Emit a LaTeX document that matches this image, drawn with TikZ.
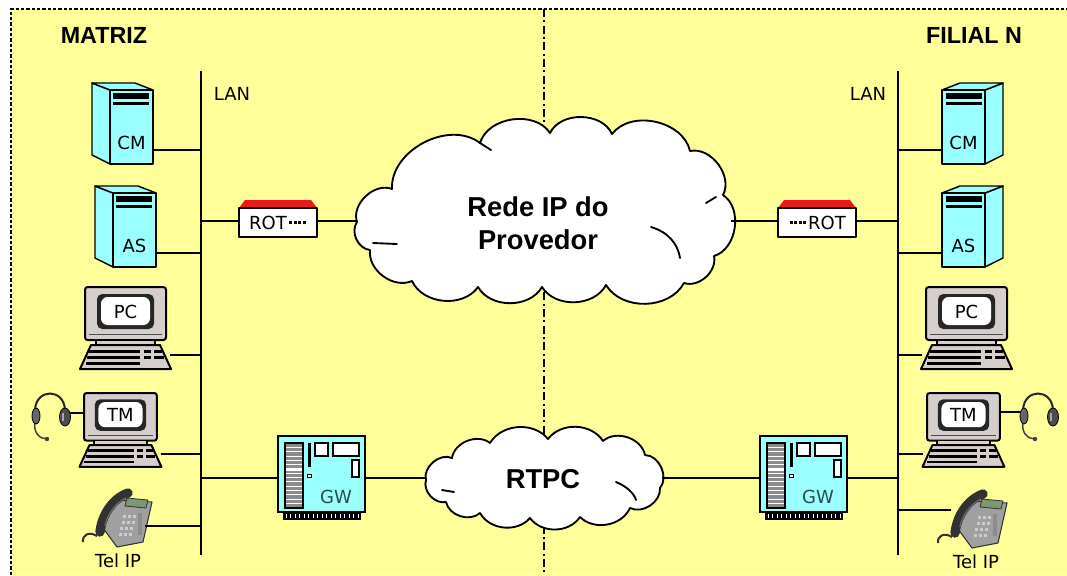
\documentclass[tikz,border=0pt]{standalone}
\usepackage{fontspec}
\setmainfont{Liberation Sans}
\newfontfamily\smallfont{DejaVu Sans}
\usetikzlibrary{calc}

\definecolor{paper}{RGB}{255,255,153}
\definecolor{boxcyan}{RGB}{153,255,255}
\definecolor{roofred}{RGB}{235,25,25}
\definecolor{crt}{RGB}{214,206,202}
\definecolor{gwink}{RGB}{45,75,75}
\definecolor{phgray}{RGB}{160,160,160}
\definecolor{phdark}{RGB}{50,50,50}
\definecolor{lcd}{RGB}{125,150,115}

\tikzset{
  wire/.style={line width=1.6pt},
  outline/.style={draw=black, line width=1.1pt, line join=round},
  devlabel/.style={font=\smallfont\fontsize{13.5}{15}\selectfont, inner sep=0pt},
  gwlabel/.style={devlabel, text=gwink},
  title/.style={font=\bfseries\fontsize{17.5}{20}\selectfont, inner sep=0pt},
  cloudtext/.style={font=\bfseries\fontsize{20.5}{24.75}\selectfont, align=center, inner sep=0pt},
  cloudline/.style={draw=black, line width=1.4pt, fill=white, line join=round},
  foldline/.style={draw=black, line width=1.4pt, line cap=round},
  % tower server; #2 = 1 (side face on the left) or -1 (side face on the right)
  pics/server/.style 2 args={code={
    \begin{scope}[xscale=#2]
      \filldraw[fill=boxcyan, outline] (0,0) -- (-18,-7) -- (-18,65) -- (0,74) -- cycle;
      \filldraw[fill=boxcyan, outline] (0,0) -- (-18,-7) -- (25,-7) -- (43,0) -- cycle;
      \filldraw[fill=boxcyan, outline] (0,0) rectangle (43,74);
      \fill (3,3) rectangle (39,9);
      \fill (3,12) rectangle (39,14.5);
      \node[devlabel] at (21.5,53) {#1};
      \coordinate (-port) at (43,60);
    \end{scope}
  }},
  % router; #1 = 1 (LAN on the left) or -1 (LAN on the right)
  pics/router/.style={code={
    \begin{scope}[xscale=#1]
      \fill[roofred] (-39,-14) -- (-33,-22) -- (33,-22) -- (39,-14) -- cycle;
      \filldraw[fill=white, outline] (-39,-14) rectangle (39,15);
      \node[devlabel] at (-10,0.5) {ROT};
      \foreach \d in {11,15.5,20,24.5} \fill (\d,-1) rectangle ++(3,3);
      \coordinate (-lan) at (-39,-1);
      \coordinate (-net) at (39,-1);
    \end{scope}
  }},
  % desktop computer with CRT monitor
  pics/computer/.style={code={
    \filldraw[fill=crt, draw=black, line width=1.5pt, rounded corners=2] (0,0) rectangle (81,53);
    \draw[line width=0.5pt, black!70] (4,47) -- (77,47);
    \fill[black!85, rounded corners=4] (12,7) rectangle (69,42);
    \fill[white, rounded corners=5] (16,10) rectangle (65,38);
    \node[devlabel] at (40.5,24.5) {#1};
    \filldraw[fill=crt, draw=black, line width=1pt] (11,53) rectangle (70,58);
    \filldraw[fill=crt, draw=black, line width=1.5pt, line join=round]
      (6,58) -- (75,58) -- (86,82) -- (-5,82) -- cycle;
    \fill (4,62.5) rectangle (55,65.5);
    \fill (59,62.5) rectangle (66,65.5);
    \fill (69,62.5) rectangle (77,65.5);
    \fill (2,69) rectangle (55,72);
    \fill (59,69) rectangle (66,72);
    \fill (69,69) rectangle (79,72);
    \fill (0.5,75) rectangle (55,77.5);
    \coordinate (-e) at (85,68);
    \coordinate (-w) at (-4,68);
    \coordinate (-mw) at (0,21);
    \coordinate (-me) at (81,21);
  }},
  % headset, origin at the small ear cup
  pics/headset/.style={code={
    \draw[line width=1.5pt, black!85] (-1,-5) .. controls (0,-27) and (28,-27) .. (29,-5);
    \draw[line width=1.1pt, black!75] (-1,7) .. controls (-3,18) and (4,24) .. (11,24);
    \fill[black!75] (11,24) circle (2.2);
    \filldraw[fill=black!60, draw=black, line width=0.6pt] (0,1) ellipse (4 and 8);
    \filldraw[fill=black!70, draw=black, line width=0.6pt] (29,2) ellipse (5.5 and 9);
    \fill[black!35] (26,-2) rectangle (28,6);
    \coordinate (-l) at (-4,-2);
    \coordinate (-r) at (34,-2);
  }},
  % IP desk phone
  pics/ipphone/.style={code={
    \filldraw[fill=phgray, draw=phdark, line width=0.8pt, line join=round]
      (33,13) -- (72,15) -- (63,55) -- (37,60) -- (23,41) -- cycle;
    \filldraw[fill=lcd, draw=phdark, line width=0.6pt] (47,11) -- (68,13) -- (66,21) -- (45,19) -- cycle;
    \foreach \r in {0,...,3} \foreach \c in {0,1,2}
      \fill[black!20] (43+5*\c-1.5*\r, 28+6*\r) rectangle ++(3,2.5);
    \fill[black!45] (58,26) rectangle (62,48);
    \draw[phdark, line width=7pt, line cap=round] (20,45) .. controls (22,28) and (32,12) .. (48,6);
    \draw[black!60, line width=1pt] (25,39) .. controls (27,28) and (35,16) .. (46,11);
    \draw[phdark, line width=1.5pt] (17,49) .. controls (9,44) and (2,48) .. (3,55);
    \coordinate (-e) at (65,39);
    \coordinate (-w) at (16,22);
  }},
  % voice gateway card
  pics/gateway/.style={code={
    \filldraw[fill=boxcyan, draw=black, line width=1.5pt] (0,0) rectangle (87,76);
    \filldraw[fill=black!45, draw=black, line width=0.8pt] (7,7) rectangle (25,72);
    \foreach \s in {1,...,14} \draw[white, line width=0.5pt] (8,7+4.3*\s) -- (24,7+4.3*\s);
    \draw[white, line width=1.6pt] (8,34) -- (24,34);
    \fill (30,7) rectangle (32.5,31);
    \filldraw[fill=white, draw=black, line width=0.6pt] (29.5,38) rectangle (33,41);
    \filldraw[fill=white, draw=black, line width=0.8pt] (37,7) rectangle (50,20);
    \filldraw[fill=white, draw=black, line width=0.8pt] (55,7) rectangle (81,20);
    \filldraw[fill=white, draw=black, line width=0.8pt] (74,24) rectangle (81,41);
    \node[gwlabel] at (58,61) {GW};
    \fill (5,76) rectangle (83,84);
    \foreach \p in {0,...,16} \fill[white] (7.5+4.5*\p,77.5) rectangle ++(1.4,4.5);
    \coordinate (-w) at (0,42);
    \coordinate (-e) at (87,42);
  }},
}

\begin{document}
\begin{tikzpicture}[x=0.75pt, y=-0.75pt]
  \useasboundingbox (0,0) rectangle (1067,575);
  \fill[white] (0,0) rectangle (1067,575);
  \fill[paper] (11,9) rectangle (1067,575);
  \draw[line width=1pt, dash pattern=on 2.5pt off 1.5pt] (11,575) -- (11,9) -- (1067,9);

  % boundary between the two sites
  \draw[line width=1pt, dash pattern=on 6pt off 2.5pt on 1.5pt off 2.5pt] (544,9) -- (544,575);

  % provider IP network
  \filldraw[cloudline] (357,222) to[bend left=65] (392,189) to[bend left=65] (480,143)
    to[bend left=65] (550,133) to[bend left=65] (612,134) to[bend left=65] (690,151)
    to[bend left=65] (723,195) to[bend left=65] (714,256) to[bend left=60] (684,283)
    to[bend left=60] (606,285) to[bend left=60] (542,287) to[bend left=60] (478,287)
    to[bend left=60] (412,281) to[bend left=60] (370,250) to[bend left=60] (357,222);
  \draw[foldline] (480,143) -- (491,150);
  \draw[foldline] (373,243) -- (397,244);
  \draw[foldline] (651,227) .. controls (668,232) and (678,244) .. (680,258);
  \draw[foldline] (706,203) -- (716,197);
  \coordinate (ipW) at (357,221);
  \coordinate (ipE) at (731,221);
  \node[cloudtext] (ipnet) at (538,223) {Rede IP do\\Provedor};

  % public switched telephone network
  \filldraw[cloudline] (426,480) to[bend left=65] (452,458) to[bend left=60] (490,443)
    to[bend left=55] (548,439) to[bend left=55] (603,441) to[bend left=60] (645,455)
    to[bend left=65] (660,488) to[bend left=60] (630,508) to[bend left=55] (580,517)
    to[bend left=55] (530,518) to[bend left=55] (480,513) to[bend left=60] (446,502)
    to[bend left=60] (426,480);
  \draw[foldline] (442,490) -- (454,492);
  \draw[foldline] (616,482) .. controls (626,486) and (634,493) .. (636,500);
  \coordinate (pstnW) at (426,478);
  \coordinate (pstnE) at (662,478);
  \node[cloudtext] (pstn) at (543,479) {RTPC};

  % site titles
  \node[title] (matriz) at (104,35) {MATRIZ};
  \node[title] (filial) at (974,35) {FILIAL N};

  % LAN backbones
  \coordinate (lanLtop) at (201,71);
  \coordinate (lanLbot) at (201,555);
  \coordinate (lanRtop) at (898,71);
  \coordinate (lanRbot) at (898,555);
  \draw[wire] (lanLtop) -- (lanLbot);
  \draw[wire] (lanRtop) -- (lanRbot);
  \node[devlabel] (lanLtxt) at (232,94) {LAN};
  \node[devlabel] (lanRtxt) at (868,94) {LAN};

  % headquarters devices
  \pic (cmL) at (110,90) {server={CM}{1}};
  \pic (asL) at (113,193) {server={AS}{1}};
  \pic (rotL) at (278,222) {router=1};
  \pic (pcL) at (85,287) {computer=PC};
  \pic[scale=0.9] (tmL) at (84,393) {computer=TM};
  \pic (hsL) at (36,415) {headset};
  \pic (telL) at (80,487) {ipphone};
  \pic (gwL) at (278,436) {gateway};
  \node[devlabel] (telLtxt) at (118,561) {Tel IP};

  % branch devices
  \pic (cmR) at (985,90) {server={CM}{-1}};
  \pic (asR) at (985,193) {server={AS}{-1}};
  \pic (rotR) at (817,222) {router=-1};
  \pic (pcR) at (926,287) {computer=PC};
  \pic[scale=0.9] (tmR) at (927,393) {computer=TM};
  \pic (hsR) at (1024,415) {headset};
  \pic (telR) at (935,488) {ipphone};
  \pic (gwR) at (760,436) {gateway};
  \node[devlabel] (telRtxt) at (976,562) {Tel IP};

  % headquarters links
  \draw[wire] (cmL-port) -- (cmL-port -| lanLtop);
  \draw[wire] (asL-port) -- (asL-port -| lanLtop);
  \draw[wire] (rotL-lan) -- (rotL-lan -| lanLtop);
  \draw[wire] (rotL-net) -- (ipW);
  \draw[wire] (pcL-e) -- (pcL-e -| lanLtop);
  \draw[wire] (tmL-e) -- (tmL-e -| lanLtop);
  \draw[wire] (hsL-r) -- (hsL-r -| tmL-mw);
  \draw[wire] (telL-e) -- (telL-e -| lanLtop);
  \draw[wire] (gwL-w) -- (gwL-w -| lanLtop);
  \draw[wire] (gwL-e) -- (pstnW);

  % branch links
  \draw[wire] (cmR-port) -- (cmR-port -| lanRtop);
  \draw[wire] (asR-port) -- (asR-port -| lanRtop);
  \draw[wire] (rotR-lan) -- (rotR-lan -| lanRtop);
  \draw[wire] (rotR-net) -- (ipE);
  \draw[wire] (pcR-w) -- (pcR-w -| lanRtop);
  \draw[wire] (tmR-w) -- (tmR-w -| lanRtop);
  \draw[wire] (tmR-me) -- (tmR-me -| hsR-l);
  \draw[wire] (telR-w) -- (telR-w -| lanRtop);
  \draw[wire] (gwR-e) -- (gwR-e -| lanRtop);
  \draw[wire] (pstnE) -- (pstnE -| gwR-w);
\end{tikzpicture}
\end{document}
